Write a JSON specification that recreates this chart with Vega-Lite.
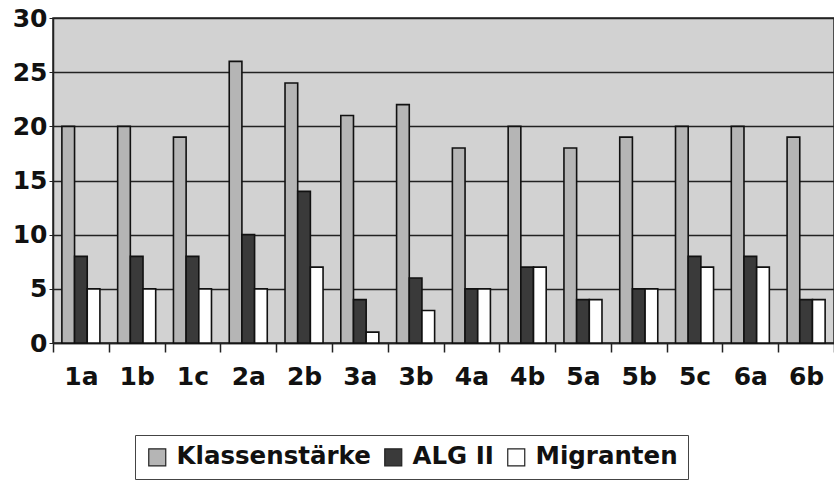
{
  "$schema": "https://vega.github.io/schema/vega-lite/v6.json",
  "autosize": "none",
  "width": 781,
  "height": 325,
  "padding": {"left": 53, "top": 18, "right": 0, "bottom": 138},
  "background": "#ffffff",
  "data": {
    "values": [
      {"klasse": "1a", "serie": "Klassenstärke", "wert": 20},
      {"klasse": "1a", "serie": "ALG II", "wert": 8},
      {"klasse": "1a", "serie": "Migranten", "wert": 5},
      {"klasse": "1b", "serie": "Klassenstärke", "wert": 20},
      {"klasse": "1b", "serie": "ALG II", "wert": 8},
      {"klasse": "1b", "serie": "Migranten", "wert": 5},
      {"klasse": "1c", "serie": "Klassenstärke", "wert": 19},
      {"klasse": "1c", "serie": "ALG II", "wert": 8},
      {"klasse": "1c", "serie": "Migranten", "wert": 5},
      {"klasse": "2a", "serie": "Klassenstärke", "wert": 26},
      {"klasse": "2a", "serie": "ALG II", "wert": 10},
      {"klasse": "2a", "serie": "Migranten", "wert": 5},
      {"klasse": "2b", "serie": "Klassenstärke", "wert": 24},
      {"klasse": "2b", "serie": "ALG II", "wert": 14},
      {"klasse": "2b", "serie": "Migranten", "wert": 7},
      {"klasse": "3a", "serie": "Klassenstärke", "wert": 21},
      {"klasse": "3a", "serie": "ALG II", "wert": 4},
      {"klasse": "3a", "serie": "Migranten", "wert": 1},
      {"klasse": "3b", "serie": "Klassenstärke", "wert": 22},
      {"klasse": "3b", "serie": "ALG II", "wert": 6},
      {"klasse": "3b", "serie": "Migranten", "wert": 3},
      {"klasse": "4a", "serie": "Klassenstärke", "wert": 18},
      {"klasse": "4a", "serie": "ALG II", "wert": 5},
      {"klasse": "4a", "serie": "Migranten", "wert": 5},
      {"klasse": "4b", "serie": "Klassenstärke", "wert": 20},
      {"klasse": "4b", "serie": "ALG II", "wert": 7},
      {"klasse": "4b", "serie": "Migranten", "wert": 7},
      {"klasse": "5a", "serie": "Klassenstärke", "wert": 18},
      {"klasse": "5a", "serie": "ALG II", "wert": 4},
      {"klasse": "5a", "serie": "Migranten", "wert": 4},
      {"klasse": "5b", "serie": "Klassenstärke", "wert": 19},
      {"klasse": "5b", "serie": "ALG II", "wert": 5},
      {"klasse": "5b", "serie": "Migranten", "wert": 5},
      {"klasse": "5c", "serie": "Klassenstärke", "wert": 20},
      {"klasse": "5c", "serie": "ALG II", "wert": 8},
      {"klasse": "5c", "serie": "Migranten", "wert": 7},
      {"klasse": "6a", "serie": "Klassenstärke", "wert": 20},
      {"klasse": "6a", "serie": "ALG II", "wert": 8},
      {"klasse": "6a", "serie": "Migranten", "wert": 7},
      {"klasse": "6b", "serie": "Klassenstärke", "wert": 19},
      {"klasse": "6b", "serie": "ALG II", "wert": 4},
      {"klasse": "6b", "serie": "Migranten", "wert": 4}
    ]
  },
  "mark": {"type": "bar", "stroke": "#111111", "strokeWidth": 1.6},
  "encoding": {
    "x": {
      "field": "klasse",
      "type": "nominal",
      "sort": null,
      "scale": {"paddingInner": 0, "paddingOuter": 0},
      "axis": {
        "title": null,
        "labelAngle": 0,
        "labelFont": "DejaVu Sans",
        "labelFontWeight": "bold",
        "labelFontSize": 25,
        "labelColor": "#111111",
        "labelPadding": 12,
        "tickBand": "extent",
        "tickSize": 9,
        "tickColor": "#222222",
        "tickWidth": 1.5,
        "domainColor": "#222222",
        "domainWidth": 1.5
      }
    },
    "xOffset": {"field": "serie", "type": "nominal", "sort": ["Klassenstärke", "ALG II", "Migranten"], "scale": {"paddingInner": 0, "paddingOuter": 0.7}},
    "y": {
      "field": "wert",
      "type": "quantitative",
      "scale": {"domain": [0, 30]},
      "axis": {
        "title": null,
        "values": [0, 5, 10, 15, 20, 25, 30],
        "labelFont": "DejaVu Sans",
        "labelFontWeight": "bold",
        "labelFontSize": 25,
        "labelColor": "#111111",
        "labelPadding": 2,
        "tickSize": 4,
        "tickColor": "#222222",
        "domainColor": "#222222",
        "domainWidth": 1.5,
        "gridColor": "#222222",
        "gridWidth": 1.4
      }
    },
    "color": {
      "field": "serie",
      "type": "nominal",
      "sort": ["Klassenstärke", "ALG II", "Migranten"],
      "scale": {"domain": ["Klassenstärke", "ALG II", "Migranten"], "range": ["#b5b5b5", "#3a3a3a", "#ffffff"]},
      "legend": {
        "title": null,
        "orient": "none",
        "direction": "horizontal",
        "legendX": 82,
        "legendY": 417,
        "symbolType": "square",
        "symbolSize": 289,
        "symbolStrokeColor": "#222222",
        "symbolStrokeWidth": 1.2,
        "symbolOpacity": 1,
        "labelFont": "DejaVu Sans",
        "labelFontWeight": "bold",
        "labelFontSize": 24.5,
        "labelColor": "#111111",
        "labelOffset": 7,
        "columnPadding": 10,
        "padding": 10,
        "strokeColor": "#444444",
        "fillColor": "#ffffff",
        "labelLimit": 300
      }
    }
  },
  "config": {
    "view": {"fill": "#d2d2d2", "stroke": "#222222", "strokeWidth": 1.5}
  }
}
